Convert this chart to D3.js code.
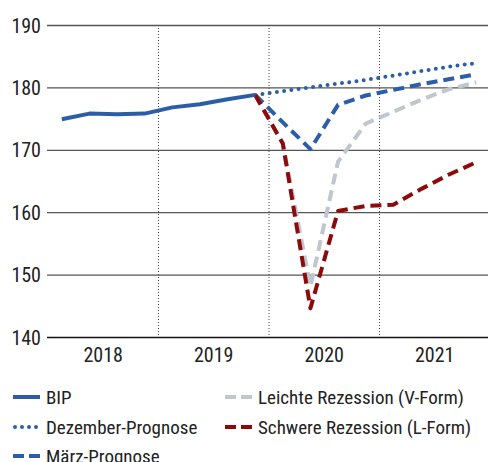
<!DOCTYPE html>
<html><head><meta charset="utf-8">
<script src="https://cdn.jsdelivr.net/npm/d3@7"></script>
<style>
html,body{margin:0;padding:0;background:#fff;}
svg text{font-family:"Liberation Sans Narrow","Arial Narrow","Roboto Condensed",sans-serif;fill:#222;}
</style></head>
<body><svg id="c" width="492" height="462"></svg>
<script>
const years = ["2018","2019","2020","2021"];
const quarters = ["2018Q1","2018Q2","2018Q3","2018Q4","2019Q1","2019Q2","2019Q3","2019Q4",
                  "2020Q1","2020Q2","2020Q3","2020Q4","2021Q1","2021Q2","2021Q3","2021Q4"];
const yTicks = [140,150,160,170,180,190];
const bip = [174.9,175.8,175.7,175.8,176.8,177.3,178.1,178.8];
const bipQ = quarters.slice(0,8);
const fcQ = quarters.slice(7);
const dezember = [178.8,179.4,180.0,180.6,181.2,181.9,182.6,183.3,183.9];
const maerz    = [178.8,174.4,170.1,177.2,178.7,179.6,180.5,181.3,182.1];
const leicht   = [178.8,171.0,148.1,168.1,174.2,176.1,178.0,179.7,180.8];
const schwer   = [178.8,171.0,144.6,160.2,161.0,161.2,163.7,166.0,168.0];
const legendLabels = ["BIP","Dezember-Prognose","März-Prognose","Leichte Rezession (V-Form)","Schwere Rezession (L-Form)"];

(function(){
const svg = d3.select("#c");
const L = 47, R = 488, T = 25, B = 337;
const x = d3.scaleBand().domain(quarters).range([48,490]);
const y = d3.scaleLinear().domain([140,190]).range([B, T]);
const cx = q => x(q) + x.bandwidth()/2;

const yAxis = d3.axisLeft(y).tickValues(yTicks).tickSize(-(R-L)).tickPadding(6).tickFormat(d3.format("d"));
const gy = svg.append("g").attr("transform",`translate(${L},0)`).call(yAxis);
gy.select(".domain").remove();
gy.selectAll(".tick line").attr("stroke","#555").attr("stroke-width",1.3);
gy.selectAll(".tick").filter(d=>d===140).select("line").attr("stroke","#111").attr("stroke-width",1.6);
gy.selectAll(".tick text").attr("font-size",20).attr("x",-6).attr("dy","0.35em");

const bounds = ["2019Q1","2020Q1","2021Q1"];
svg.append("g").selectAll("line").data(bounds).join("line")
  .attr("x1",d=>x(d)).attr("x2",d=>x(d)).attr("y1",T).attr("y2",B)
  .attr("stroke","#444").attr("stroke-width",1).attr("stroke-dasharray","1,2");

svg.append("g").selectAll("text").data(years).join("text")
  .attr("x",(d)=> (x(d+"Q1") + x(d+"Q4") + x.bandwidth())/2)
  .attr("y",362).attr("text-anchor","middle").attr("font-size",20).text(d=>d);

const lineFn = (qs) => d3.line().x((d,i)=>cx(qs[i])).y(d=>y(d));

function draw(data, qs, color, dash, cap){
  svg.append("path").datum(data).attr("d",lineFn(qs))
    .attr("fill","none").attr("stroke",color).attr("stroke-width",4)
    .attr("stroke-dasharray",dash).attr("stroke-linecap",cap).attr("stroke-linejoin","round");
}
const blue = "#2c5ea8", grey = "#c0c6cd", red = "#8c0a0a";
draw(leicht, fcQ, grey, "11,6", "butt");
draw(dezember, fcQ, blue, "0,7.3", "round");
draw(maerz, fcQ, blue, "11,6", "butt");
draw(schwer, fcQ, red, "11,6", "butt");
draw(bip, bipQ, blue, null, "butt");

const leg = [
  {label:legendLabels[0], color:blue, dash:null, cap:"butt", lx:13, ly:397},
  {label:legendLabels[1], color:blue, dash:"0,7", cap:"round", lx:13, ly:427},
  {label:legendLabels[2], color:blue, dash:"11,5", cap:"butt", lx:13, ly:456},
  {label:legendLabels[3], color:grey, dash:"11,5", cap:"butt", lx:225, ly:397},
  {label:legendLabels[4], color:red, dash:"11,5", cap:"butt", lx:225, ly:427}
];
const lg = svg.append("g").selectAll("g").data(leg).join("g");
lg.append("line").attr("x1",d=>d.lx + (d.cap==="round"?2:0)).attr("x2",d=>d.lx+27).attr("y1",d=>d.ly).attr("y2",d=>d.ly)
  .attr("stroke",d=>d.color).attr("stroke-width",4).attr("stroke-dasharray",d=>d.dash).attr("stroke-linecap",d=>d.cap);
lg.append("text").attr("x",d=>d.lx+33).attr("y",d=>d.ly).attr("dy","0.35em").attr("font-size",19).text(d=>d.label);
})();
</script></body></html>
